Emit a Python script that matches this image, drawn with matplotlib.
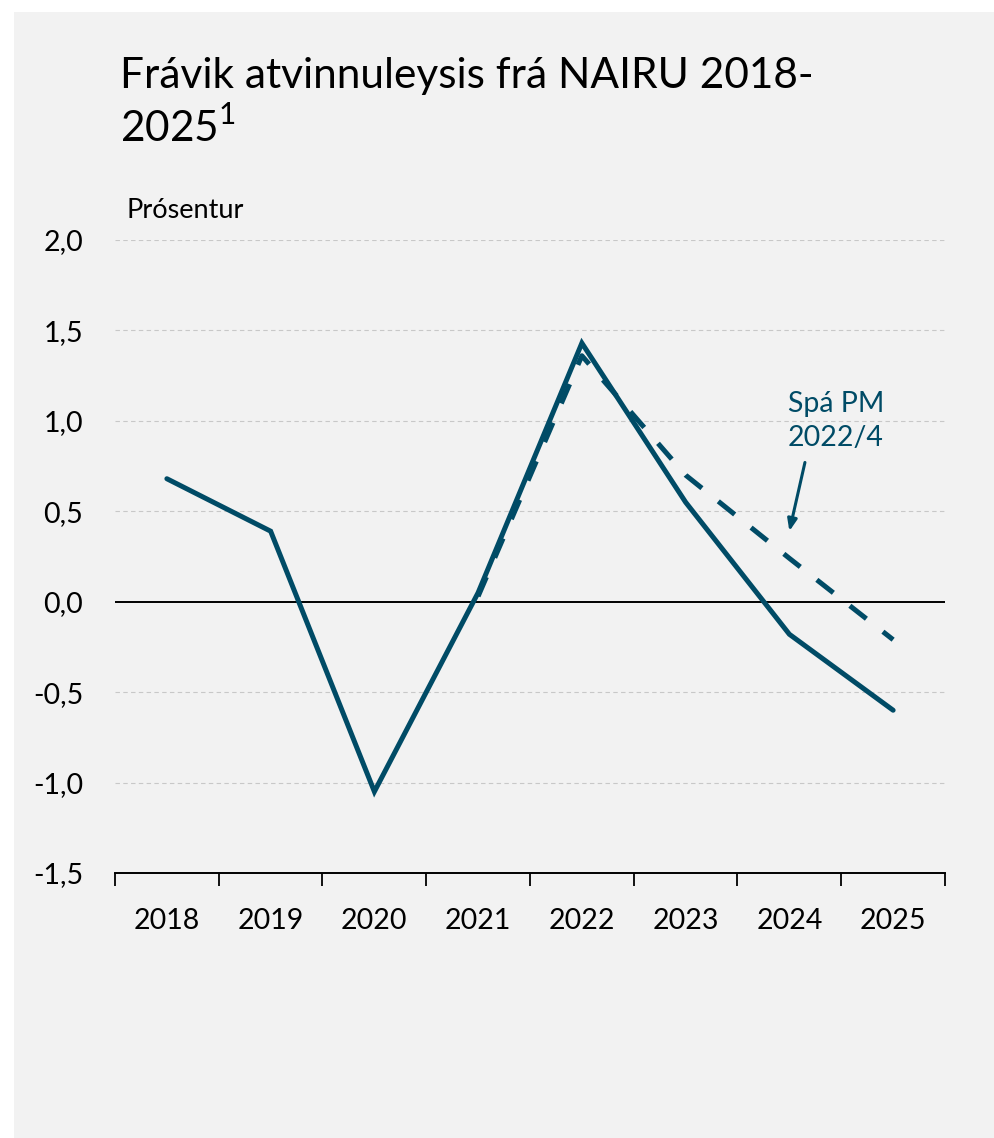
import matplotlib
matplotlib.use("Agg")
import matplotlib.pyplot as plt
from matplotlib.patches import Rectangle
from matplotlib.ticker import FuncFormatter

plt.rcParams['font.family'] = ['Lato', 'DejaVu Sans']
plt.rcParams['mathtext.fontset'] = 'custom'
plt.rcParams['mathtext.rm'] = 'Lato'

# Data
years = ["2018", "2019", "2020", "2021", "2022", "2023", "2024", "2025"]
gap = [0.68, 0.39, -1.05, 0.05, 1.43, 0.55, -0.18, -0.60]
forecast_years = ["2021", "2022", "2023", "2024", "2025"]
forecast_gap = [0.03, 1.36, 0.70, 0.24, -0.21]

line_color = "#004b66"
bg = "#f2f2f2"

fig = plt.figure(figsize=(9.95, 11.38), dpi=100, facecolor="white")
fig.patches.append(Rectangle((14 / 995, 0), 1, 1 - 12 / 1138, transform=fig.transFigure,
                             facecolor=bg, edgecolor="none", zorder=-10))

ax = fig.add_axes([115 / 995, 1 - 873 / 1138, (945 - 115) / 995, (873 - 240) / 1138])
ax.set_facecolor(bg)

x = list(range(len(years)))
fx = [years.index(y) for y in forecast_years]

ax.plot(fx, forecast_gap, color=line_color, lw=3.6, linestyle=(0, (4.2, 4.2)),
        dash_capstyle="butt", zorder=3)
ax.plot(x, gap, color=line_color, lw=3.6, solid_capstyle="round",
        solid_joinstyle="miter", zorder=4)

ax.set_xlim(-0.5, len(years) - 0.5)
ax.set_ylim(-1.5, 2.0)
ax.set_yticks([-1.5, -1.0, -0.5, 0.0, 0.5, 1.0, 1.5, 2.0])
ax.yaxis.set_major_formatter(FuncFormatter(lambda v, p: f"{v:.1f}".replace(".", ",")))
ax.set_xticks(x)
ax.set_xticklabels(years)
ax.set_xticks([i - 0.5 for i in range(len(years) + 1)], minor=True)

for yv in [-1.0, -0.5, 0.5, 1.0, 1.5, 2.0]:
    ax.axhline(yv, color="#c8c8c8", lw=0.8, linestyle=(0, (4, 3)), zorder=1)
ax.axhline(0, color="black", lw=1.4, zorder=2)

for s in ["top", "right", "left"]:
    ax.spines[s].set_visible(False)
ax.spines["bottom"].set_linewidth(1.4)

ax.tick_params(axis="y", length=0, pad=23, labelsize=20.5)
ax.tick_params(axis="x", which="major", length=0, pad=25, labelsize=20.5)
ax.tick_params(axis="x", which="minor", length=9, width=1.3, direction="out")

# forecast label and arrow
ax.text(6.45, 1.0, "Spá PM\n2022/4", color=line_color, fontsize=20.5,
        ha="center", va="center", linespacing=1.35)
ax.annotate("", xy=(6.0, 0.39), xytext=(6.15, 0.77),
            arrowprops=dict(arrowstyle="-|>,head_length=0.7,head_width=0.28",
                            color=line_color, lw=2.2, shrinkA=0, shrinkB=0))

fig.text(120 / 995, 1 - 88 / 1138, "Frávik atvinnuleysis frá NAIRU 2018-",
         fontsize=30.5, va="baseline", ha="left")
fig.text(120 / 995, 1 - 142 / 1138, "2025$^{1}$",
         fontsize=30.5, va="baseline", ha="left")
fig.text(127 / 995, 1 - 210 / 1138, "Prósentur", fontsize=19.5, va="center", ha="left")

fig.savefig("out.png", dpi=100, facecolor=fig.get_facecolor())
